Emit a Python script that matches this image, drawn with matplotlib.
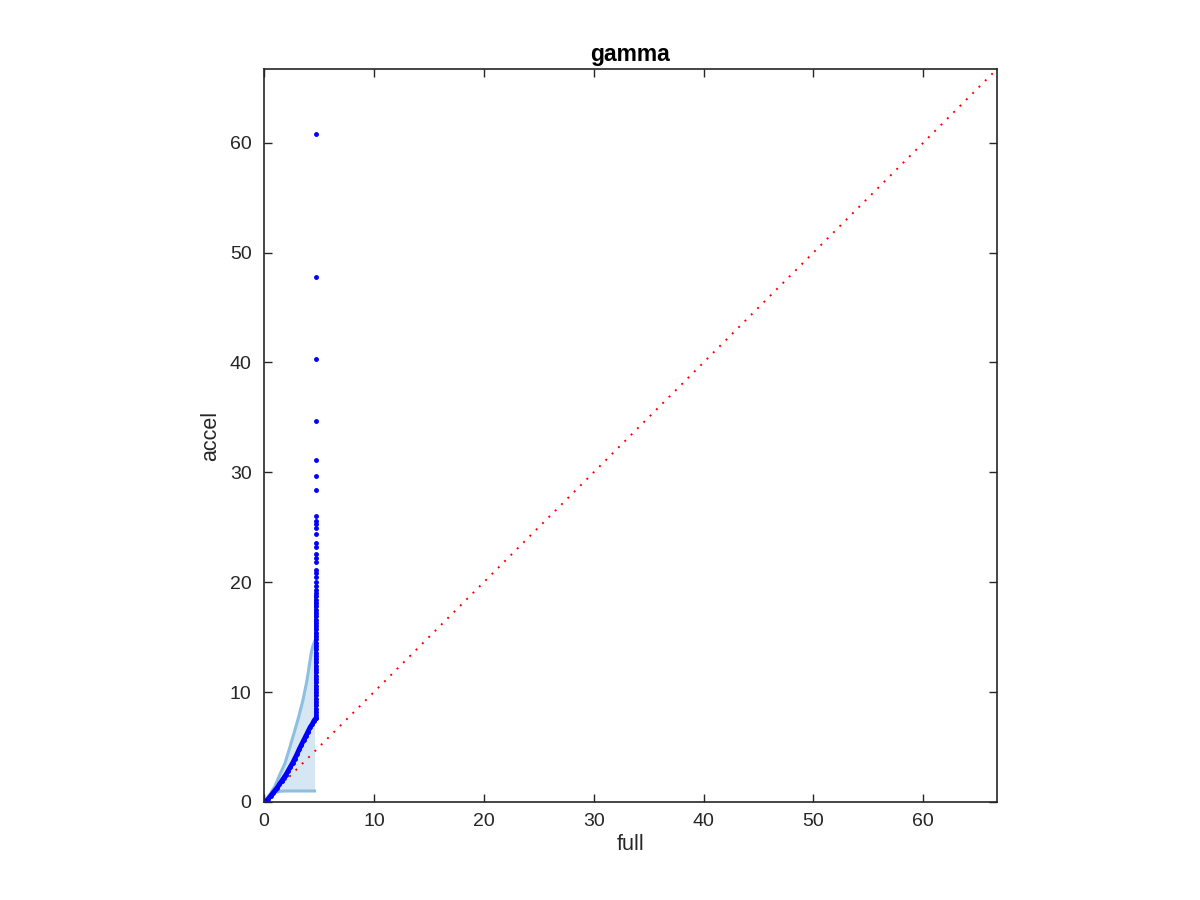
import matplotlib
matplotlib.use("Agg")
import matplotlib.pyplot as plt

# envelope (shaded band)
env_x = [0.0, 0.2, 0.6, 1.0, 1.4, 1.9, 2.3, 2.8, 3.2, 3.55, 3.9, 4.15, 4.3, 4.45, 4.6]
env_hi = [0.0, 0.2, 0.8, 1.45, 2.4, 3.5, 4.8, 6.5, 7.9, 9.3, 11.0, 12.6, 13.6, 14.2, 14.6]
env_lo = [0.0, 0.15, 0.55, 0.85, 0.97, 1.0, 1.0, 1.0, 1.0, 1.0, 1.0, 1.0, 1.0, 1.0, 1.0]

# quantile points along the curve
curve_x = [0.0, 0.05, 0.1, 0.2, 0.3, 0.4, 0.6, 0.8, 1.0, 1.2, 1.4, 1.6, 1.8, 2.0, 2.2,
           2.4, 2.6, 2.8, 3.0, 3.2, 3.4, 3.6, 3.8, 4.0, 4.2, 4.4, 4.55, 4.7]
curve_y = [0.0, 0.0, 0.05, 0.1, 0.2, 0.3, 0.55, 0.8, 1.05, 1.3, 1.6, 1.9, 2.2, 2.5, 2.85,
           3.2, 3.55, 3.95, 4.35, 4.8, 5.2, 5.6, 6.0, 6.4, 6.8, 7.1, 7.4, 7.6]

# points piled up at the cap of "full"
cap_x = 4.7
cap_dense = [7.6, 7.9, 8.2, 8.5, 8.8, 9.1, 9.4, 9.7, 10.0, 10.3, 10.6, 10.9, 11.2, 11.5,
             11.8, 12.1, 12.4, 12.7, 13.0, 13.3, 13.6, 13.9, 14.2, 14.5, 14.8, 15.1, 15.4,
             15.7, 16.0, 16.3, 16.6, 16.9, 17.2, 17.5, 17.8, 18.1, 18.4, 18.7]
cap_sparse = [19.0, 19.3, 19.7, 20.0, 20.5, 20.8, 21.1, 21.8, 22.2, 22.6, 23.2, 23.6,
              24.4, 24.9, 25.3, 25.6, 26.0, 28.4, 29.7, 31.1, 34.7, 40.3, 47.8, 60.8]

lim = 66.7
ticks = [0, 10, 20, 30, 40, 50, 60]

plt.rcParams['font.family'] = ['Liberation Sans', 'DejaVu Sans']

fig = plt.figure(figsize=(12, 9), dpi=100)
ax = fig.add_axes([0.22, 0.1089, 0.6108, 0.8144])

ax.fill_between(env_x, env_lo, env_hi, color='#d6e7f3', linewidth=0)
ax.plot(env_x, env_hi, color='#8cbfe0', lw=2.2)
ax.plot(env_x, env_lo, color='#8cbfe0', lw=2.2)

ax.plot([0, lim], [0, lim], color='red', lw=1.4, linestyle=(0, (1, 3.6)))

ax.plot(curve_x, curve_y, color='blue', lw=3.5, solid_capstyle='round')
ax.plot(curve_x, curve_y, '.', color='blue', ms=5)
ax.plot([cap_x] * len(cap_dense), cap_dense, '.-', color='blue', ms=5, lw=2.6)
ax.plot([cap_x] * len(cap_sparse), cap_sparse, '.', color='blue', ms=5)

ax.set_xlim(0, lim)
ax.set_ylim(0, lim)
ax.set_xticks(ticks)
ax.set_yticks(ticks)
ax.tick_params(direction='in', length=6, width=1, colors='#262626',
               labelsize=14, top=True, right=True)
ax.tick_params(axis='x', pad=8)
ax.tick_params(axis='y', pad=9)
for s in ax.spines.values():
    s.set_color('#262626')
    s.set_linewidth(1.2)

ax.set_xlabel('full', fontsize=15.5, color='#262626', labelpad=3)
ax.set_ylabel('accel', fontsize=15.5, color='#262626', labelpad=6)
ax.set_title('gamma', fontsize=16.5, fontweight='bold', pad=6)

fig.savefig('out.png', dpi=100)
